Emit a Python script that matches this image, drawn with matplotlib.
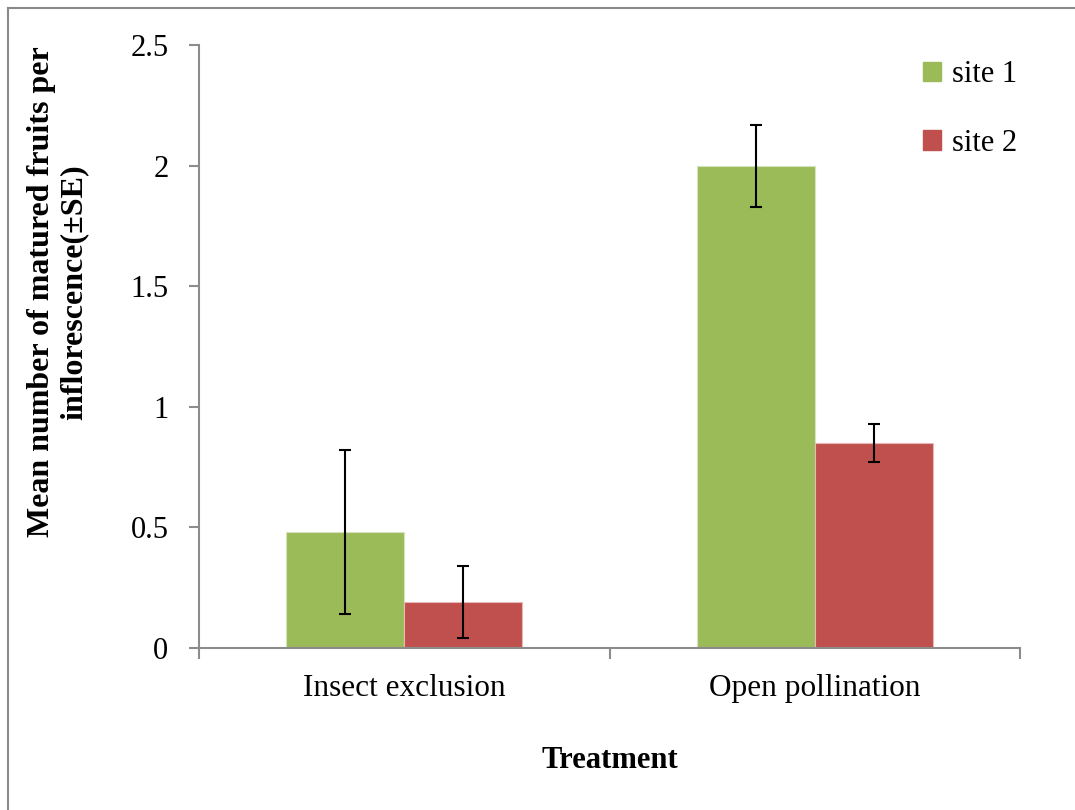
import matplotlib.pyplot as plt
import matplotlib.patches as mpatches
import numpy as np

plt.rcParams['font.family'] = ['Liberation Serif', 'DejaVu Serif']

treatments = ['Insect exclusion', 'Open pollination']
site1_mean = [0.48, 2.00]
site1_se = [0.34, 0.17]
site2_mean = [0.19, 0.85]
site2_se = [0.15, 0.077]
series_labels = ['site 1', 'site 2']

green = '#9BBB59'
red = '#C0504D'
axis_grey = '#8C8C8C'

fig = plt.figure(figsize=(10.75, 8.1), dpi=100)
ax = fig.add_axes([199/1075, 1 - 648/810, (1020 - 199)/1075, (648 - 45)/810])

x = np.arange(len(treatments)) + 0.5
w = 0.287
ax.bar(x - w/2, site1_mean, w, color=green, edgecolor='#D6E3BC', linewidth=0.8,
       label=series_labels[0], zorder=2)
ax.bar(x + w/2, site2_mean, w, color=red, edgecolor='#E6B9B8', linewidth=0.8,
       label=series_labels[1], zorder=2)
eb = dict(fmt='none', ecolor='black', elinewidth=1.5, capsize=4.5, capthick=1.5, zorder=3)
ax.errorbar(x - w/2, site1_mean, yerr=site1_se, **eb)
ax.errorbar(x + w/2, site2_mean, yerr=site2_se, **eb)

ax.set_xlim(0, 2)
ax.set_ylim(0, 2.5)
ax.set_yticks([0, 0.5, 1, 1.5, 2, 2.5])
ax.set_yticklabels(['0', '0.5', '1', '1.5', '2', '2.5'])
ax.set_xticks([0, 1, 2])
ax.set_xticklabels([])
ax.set_xticks(x, minor=True)
ax.set_xticklabels(treatments, minor=True)
ax.tick_params(axis='x', which='minor', length=0, pad=19, labelsize=22.5)
ax.tick_params(axis='x', which='major', length=8, width=1.5, color=axis_grey)
ax.tick_params(axis='y', length=7, width=1.5, color=axis_grey, labelsize=22, pad=15)

for s in ['top', 'right']:
    ax.spines[s].set_visible(False)
for s in ['left', 'bottom']:
    ax.spines[s].set_color(axis_grey)
    ax.spines[s].set_linewidth(1.5)

ax.set_xlabel('Treatment', fontsize=22, fontweight='bold', labelpad=31)
fig.text(58/1075, 1 - 292/810,
         'Mean number of matured fruits per\ninflorescence(\u00b1SE)',
         rotation=90, ha='center', va='center', fontsize=23, fontweight='bold',
         multialignment='center', linespacing=1.15)

handles = [mpatches.Patch(color=green, label=series_labels[0]),
           mpatches.Patch(color=red, label=series_labels[1])]
fig.legend(handles=handles, loc='upper left', bbox_to_anchor=(923/1075, 1 - 60/810),
           frameon=False, fontsize=22, handlelength=0.6, handleheight=0.6,
           handletextpad=0.35, labelspacing=1.3, borderpad=0, borderaxespad=0)

# chart area border (only left and top visible in the crop)
fig.add_artist(plt.Line2D([8/1075, 8/1075], [0, 1 - 8/810], transform=fig.transFigure,
                          color='#8A8A8A', linewidth=1.5))
fig.add_artist(plt.Line2D([8/1075, 1], [1 - 8/810, 1 - 8/810], transform=fig.transFigure,
                          color='#8A8A8A', linewidth=1.5))

fig.savefig('out.png', dpi=100)
